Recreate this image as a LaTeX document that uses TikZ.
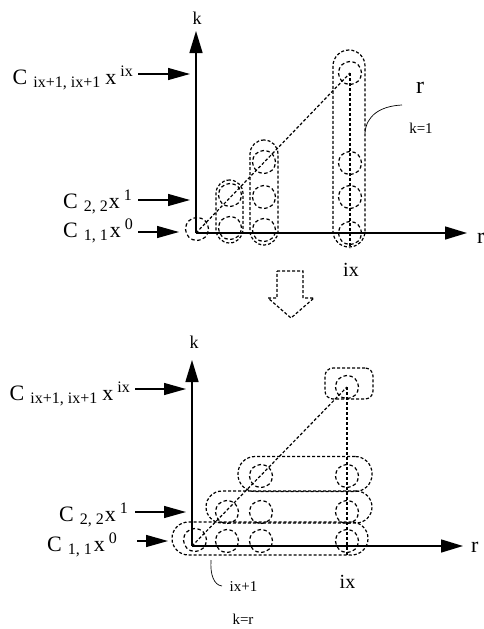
\documentclass[tikz,border=0pt]{standalone}
\usepackage{fontspec}
\setmainfont{Liberation Serif}
\usetikzlibrary{arrows.meta}
\newcommand{\Clbl}[3]{{\fontsize{22}{24}\selectfont C}\hspace{6pt}\raisebox{-3pt}{\fontsize{16}{18}\selectfont #2}\hspace{#1}{\fontsize{22}{24}\selectfont x}\hspace{4pt}\raisebox{8pt}{\fontsize{16}{18}\selectfont #3}}
\tikzset{
  axis/.style={line width=1.5pt, -{Triangle[length=22pt,width=13pt]}},
  ptr/.style={line width=1.3pt, -{Triangle[length=22pt,width=12pt]}},
  dl/.style={dash pattern=on 3pt off 2pt, line width=1.2pt},
  dc/.style={circle, draw, dash pattern=on 3.5pt off 2.5pt, line width=1.2pt, minimum size=23pt, inner sep=0pt},
  stad/.style={draw, dash pattern=on 3pt off 2pt, line width=1.2pt, inner sep=0pt},
  lbl/.style={anchor=base east, inner sep=0pt},
  big/.style={font=\fontsize{22}{24}\selectfont, inner sep=0pt},
  mid/.style={font=\fontsize{20}{22}\selectfont, inner sep=0pt},
  small/.style={font=\fontsize{15}{17}\selectfont, inner sep=0pt},
  thin/.style={line width=0.7pt}
}
\begin{document}
\begin{tikzpicture}[x=1pt,y=-1pt]
\useasboundingbox (0,0) rectangle (483,629);
% ================= TOP =================
\node[stad, minimum width=27pt, minimum height=63pt, rounded corners=13.5pt] (ts2) at (229.5,211.5) {};
\node[stad, minimum width=28pt, minimum height=105pt, rounded corners=14pt] (ts3) at (264,192.5) {};
\node[stad, minimum width=32pt, minimum height=197pt, rounded corners=16pt] (ts4) at (349,148.5) {};
\node[dc] (t10) at (197,229) {};
\node[dc] (t20) at (230,228) {};
\node[dc] (t21) at (230,195) {};
\node[dc] (t30) at (264,230) {};
\node[dc] (t31) at (264,197) {};
\node[dc] (t32) at (264,162) {};
\node[dc] (t40) at (350,233) {};
\node[dc] (t41) at (350,197) {};
\node[dc] (t42) at (350,163) {};
\node[dc] (t43) at (350,73) {};
\coordinate (O1) at (196,233);
\coordinate (K1) at (196,31);
\coordinate (R1) at (467,233);
\coordinate (B1) at (350,248);
\draw[dl] (O1) -- (t43.center);
\draw[dl] (t43.center) -- (B1);
\draw[axis] (O1) -- (K1);
\draw[axis] (O1) -- (R1);
\node[font=\fontsize{18}{20}\selectfont, inner sep=0pt] (k1) at (197,18.5) {k};
\node[big, anchor=base west] (r1) at (477,243) {r};
\node[mid] (ix1) at (351,270) {ix};
\node[lbl] (L1) at (133,84) {\Clbl{5pt}{ix+1, ix+1}{ix}};
\node[lbl] (L2) at (132,208) {\Clbl{1pt}{2, 2}{1}};
\node[lbl] (L3) at (133,237) {\Clbl{2pt}{1, 1}{0}};
\coordinate (p1s) at (138,74);  \coordinate (p1e) at (190,74);
\coordinate (p2s) at (138,200); \coordinate (p2e) at (190,200);
\coordinate (p3s) at (138,232); \coordinate (p3e) at (179,232);
\draw[ptr] (p1s) -- (p1e);
\draw[ptr] (p2s) -- (p2e);
\draw[ptr] (p3s) -- (p3e);
\node[font=\fontsize{24}{26}\selectfont, inner sep=0pt] (sr) at (420,88) {r};
\node[small] (sk1) at (421,128) {k=1};
\coordinate (c1a) at (365,133); \coordinate (c1b) at (402,105);
\draw[thin] (c1a) .. controls (366,116) and (380,106) .. (c1b);
% ================= DOWN ARROW =================
\draw[dl] (277,271) -- (303,271) -- (303,298) -- (314,298) -- (291,318) -- (268,298) -- (277,298) -- cycle;
% ================= BOTTOM =================
\node[stad, minimum width=196pt, minimum height=33pt, rounded corners=16.5pt] (bs0) at (270,538.5) {};
\node[stad, minimum width=166pt, minimum height=32pt, rounded corners=16pt] (bs1) at (289,507) {};
\node[stad, minimum width=134pt, minimum height=35pt, rounded corners=17pt] (bs2) at (305,474) {};
\node[stad, minimum width=48pt, minimum height=31pt, rounded corners=8pt] (bs3) at (349,383.5) {};
\node[dc] (b00) at (195,540) {};
\node[dc] (b01) at (227,541) {};
\node[dc] (b02) at (261,541) {};
\node[dc] (b04) at (347,541) {};
\node[dc] (b11) at (227,512) {};
\node[dc] (b12) at (261,512) {};
\node[dc] (b14) at (347,512) {};
\node[dc] (b22) at (261,476) {};
\node[dc] (b24) at (347,476) {};
\node[dc] (b34) at (347,387) {};
\coordinate (O2) at (192,546);
\coordinate (K2) at (192,360);
\coordinate (R2) at (463,546);
\coordinate (B2) at (347,555);
\draw[dl] (O2) -- (b34.center);
\draw[dl] (b34.center) -- (B2);
\draw[axis] (O2) -- (K2);
\draw[axis] (O2) -- (R2);
\node[font=\fontsize{18}{20}\selectfont, inner sep=0pt] (k2) at (194,342.5) {k};
\node[big, anchor=base west] (r2) at (471,552) {r};
\node[mid] (ix2) at (347.5,582) {ix};
\node[lbl] (M1) at (130,400) {\Clbl{5pt}{ix+1, ix+1}{ix}};
\node[lbl] (M2) at (128,521) {\Clbl{1pt}{2, 2}{1}};
\node[lbl] (M3) at (117,551) {\Clbl{2pt}{1, 1}{0}};
\coordinate (q1s) at (135,389); \coordinate (q1e) at (186,389);
\coordinate (q2s) at (135,512); \coordinate (q2e) at (186,512);
\coordinate (q3s) at (137,541); \coordinate (q3e) at (168,541);
\draw[ptr] (q1s) -- (q1e);
\draw[ptr] (q2s) -- (q2e);
\draw[ptr] (q3s) -- (q3e);
\node[small] (six) at (243.5,587) {ix+1};
\node[small] (skr) at (243,619) {k=r};
\coordinate (c2a) at (211,560); \coordinate (c2b) at (222,586);
\draw[thin] (c2a) .. controls (210,575) and (214,585) .. (c2b);
\end{tikzpicture}
\end{document}
